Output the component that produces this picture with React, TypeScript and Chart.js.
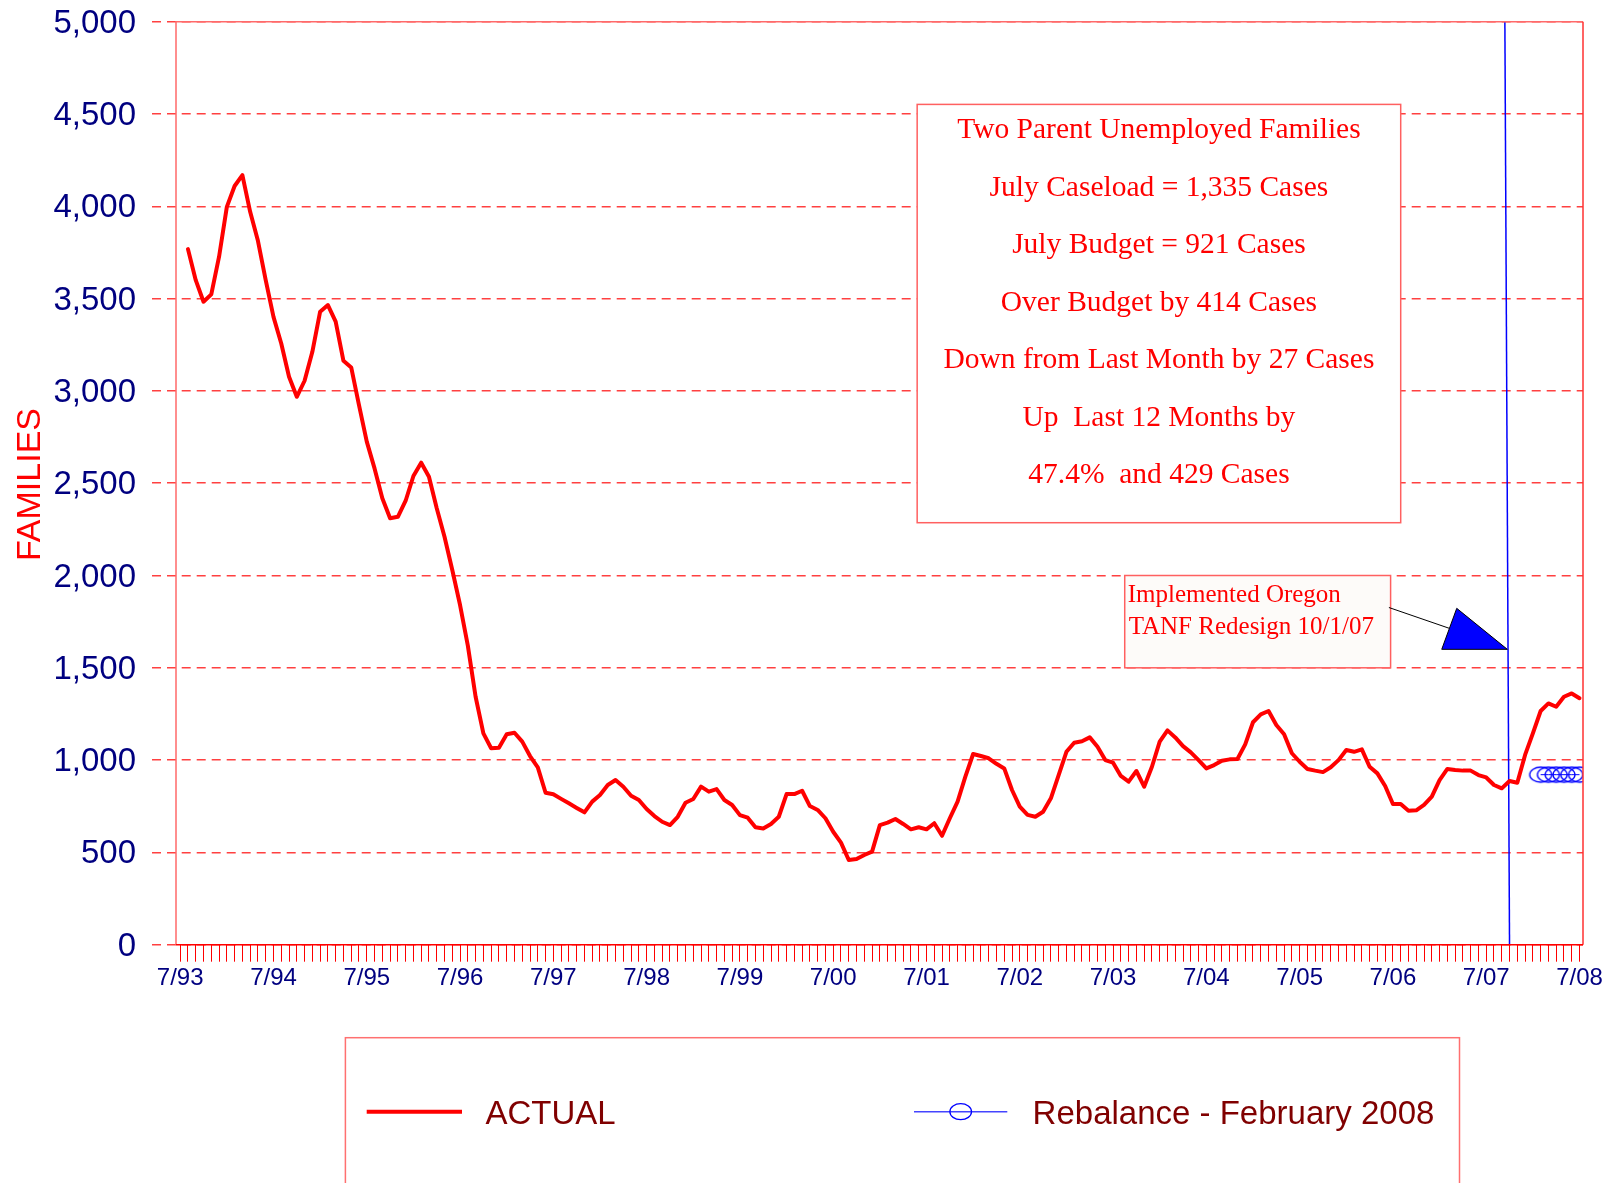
import { useEffect, useRef } from 'react';
import { Chart, registerables } from 'chart.js';

Chart.register(...registerables);

// ---- data ----
const yearLabels = ['7/93', '7/94', '7/95', '7/96', '7/97', '7/98', '7/99', '7/00', '7/01', '7/02', '7/03', '7/04', '7/05', '7/06', '7/07', '7/08'];

// monthly caseload, index 0 = 7/93 ... index 180 = 7/08
const actualValues: (number | null)[] = [
  null,
  3768, 3600, 3483, 3523, 3727, 3997, 4110, 4169, 3970, 3813, 3600, 3401,
  3257, 3077, 2968, 3055, 3212, 3429, 3465, 3375, 3163, 3127, 2923, 2725,
  2580, 2418, 2310, 2318, 2405, 2539, 2611, 2535, 2364, 2210, 2030, 1840,
  1620, 1343, 1145, 1064, 1067, 1140, 1148, 1100, 1022, 961, 823, 815,
  790, 766, 741, 717, 775, 811, 865, 892, 856, 807, 784, 735,
  697, 666, 648, 693, 769, 789, 856, 829, 843, 784, 757, 702,
  688, 636, 630, 654, 693, 816, 816, 834, 751, 730, 685, 612,
  553, 459, 464, 486, 504, 648, 661, 681, 654, 625, 636, 625,
  658, 590, 685, 775, 910, 1033, 1022, 1010, 980, 955, 838, 748,
  703, 693, 720, 793, 919, 1045, 1094, 1102, 1123, 1072, 1000, 986,
  914, 883, 941, 856, 964, 1100, 1161, 1123, 1076, 1042, 1000, 955,
  973, 997, 1004, 1006, 1085, 1205, 1248, 1266, 1190, 1140, 1037, 991,
  952, 943, 935, 961, 1000, 1055, 1045, 1058, 964, 928, 860, 762,
  762, 726, 728, 757, 802, 892, 952, 946, 943, 943, 919, 906,
  865, 847, 887, 877, 1028, 1145, 1266, 1307, 1289, 1343, 1361, 1335,
];

// Rebalance - February 2008 (Feb 08 .. Jul 08)
const rebalanceStartMonth = 175;
const rebalanceValues = [921, 921, 921, 921, 921, 921];

const yMin = 0;
const yMax = 5000;
const yStep = 500;

const summaryLines = [
  'Two Parent Unemployed Families',
  'July Caseload = 1,335 Cases',
  'July Budget = 921 Cases',
  'Over Budget by 414 Cases',
  'Down from Last Month by 27 Cases',
  'Up  Last 12 Months by',
  '47.4%  and 429 Cases',
];
const redesignLines = ['Implemented Oregon', 'TANF Redesign 10/1/07'];

const SANS = "'Liberation Sans', Arial, sans-serif";
const SERIF = "'Liberation Serif', 'Times New Roman', serif";

const TARGET = { left: 176, top: 21.7, right: 1583, bottom: 944.7 };

function makeEllipse(rx: number, ry: number) {
  const c = document.createElement('canvas');
  c.width = Math.ceil(rx * 2 + 4);
  c.height = Math.ceil(ry * 2 + 4);
  const g = c.getContext('2d')!;
  g.strokeStyle = '#0000ff';
  g.lineWidth = 1.3;
  g.beginPath();
  g.ellipse(c.width / 2, c.height / 2, rx, ry, 0, 0, Math.PI * 2);
  g.stroke();
  return c;
}

export default function App() {
  const ref = useRef<HTMLCanvasElement>(null);

  useEffect(() => {
    const canvas = ref.current!;
    const monthCount = (yearLabels.length - 1) * 12 + 1;
    const ellipse = makeEllipse(11, 7.5);
    const dims = { xHeight: 1183 - TARGET.bottom, yWidth: TARGET.left };

    const annotations = {
      id: 'annotations',
      beforeDatasetsDraw(chart: any) {
        const { ctx } = chart;
        const x = chart.scales.x;
        const y = chart.scales.y;
        ctx.save();

        // summary box
        const bL = x.getPixelForValue(94.8);
        const bR = x.getPixelForValue(157.0);
        const bT = y.getPixelForValue(4552);
        const bB = y.getPixelForValue(2286);
        ctx.fillStyle = '#ffffff';
        ctx.fillRect(bL, bT, bR - bL, bB - bT);
        ctx.strokeStyle = '#ff6060';
        ctx.lineWidth = 1.5;
        ctx.strokeRect(bL, bT, bR - bL, bB - bT);
        ctx.fillStyle = '#ff0000';
        ctx.font = `29.5px ${SERIF}`;
        ctx.textAlign = 'center';
        ctx.textBaseline = 'alphabetic';
        const cx = (bL + bR) / 2;
        summaryLines.forEach((t, i) => ctx.fillText(t, cx, bT + 34 + i * 57.5));

        // redesign box
        const rL = x.getPixelForValue(121.5);
        const rR = x.getPixelForValue(155.7);
        const rT = y.getPixelForValue(2000);
        const rB = y.getPixelForValue(1500);
        ctx.fillStyle = '#fdfbf9';
        ctx.fillRect(rL, rT, rR - rL, rB - rT);
        ctx.strokeStyle = '#ff6060';
        ctx.lineWidth = 1.5;
        ctx.strokeRect(rL, rT, rR - rL, rB - rT);
        ctx.fillStyle = '#ff0000';
        ctx.font = `25px ${SERIF}`;
        ctx.textAlign = 'left';
        ctx.fillText(redesignLines[0], rL + 3, rT + 26);
        ctx.fillText(redesignLines[1], rL + 4, rT + 58.3);

        // redesign vertical line
        const topX = x.getPixelForValue(170.4);
        const botX = x.getPixelForValue(171.0);
        const topY = y.getPixelForValue(yMax);
        const botY = y.getPixelForValue(yMin);
        ctx.strokeStyle = '#0000ff';
        ctx.lineWidth = 1.5;
        ctx.beginPath();
        ctx.moveTo(topX, topY);
        ctx.lineTo(botX, botY);
        ctx.stroke();

        // arrow
        const tipY = y.getPixelForValue(1600);
        const tipX = topX + (botX - topX) * (tipY - topY) / (botY - topY) - 0.7;
        ctx.strokeStyle = '#000000';
        ctx.lineWidth = 1;
        ctx.beginPath();
        ctx.moveTo(rR - 1.7, rT + 32);
        ctx.lineTo(tipX - 58, tipY - 21);
        ctx.stroke();
        ctx.fillStyle = '#0000ff';
        ctx.beginPath();
        ctx.moveTo(tipX - 50.6, tipY - 41);
        ctx.lineTo(tipX - 65.6, tipY);
        ctx.lineTo(tipX, tipY);
        ctx.closePath();
        ctx.fill();
        ctx.stroke();
        ctx.restore();
      },
      afterDraw(chart: any) {
        const { ctx, chartArea: a } = chart;
        ctx.save();
        // plot frame
        ctx.lineWidth = 1.5;
        ctx.strokeStyle = '#ff6a6a';
        ctx.beginPath();
        ctx.moveTo(a.left, a.bottom);
        ctx.lineTo(a.left, a.top);
        ctx.lineTo(a.right, a.top);
        ctx.stroke();
        ctx.strokeStyle = '#ff3030';
        ctx.beginPath();
        ctx.moveTo(a.right, a.top);
        ctx.lineTo(a.right, a.bottom);
        ctx.stroke();
        ctx.strokeStyle = '#ff0000';
        ctx.beginPath();
        ctx.moveTo(a.left, a.bottom);
        ctx.lineTo(a.right, a.bottom);
        ctx.stroke();

        // y title
        ctx.fillStyle = '#ff0000';
        ctx.font = `34px ${SANS}`;
        ctx.textAlign = 'center';
        ctx.textBaseline = 'alphabetic';
        ctx.translate(40, 484.5);
        ctx.rotate(-Math.PI / 2);
        ctx.fillText('FAMILIES', 0, 0);
        ctx.restore();

        // legend
        ctx.save();
        ctx.strokeStyle = '#ff7070';
        ctx.lineWidth = 1.5;
        ctx.strokeRect(345.4, 1037.7, 1459.5 - 345.4, 200);
        ctx.strokeStyle = '#ff0000';
        ctx.lineWidth = 4;
        ctx.beginPath();
        ctx.moveTo(366.7, 1111.7);
        ctx.lineTo(462, 1111.7);
        ctx.stroke();
        ctx.strokeStyle = '#4444ff';
        ctx.lineWidth = 1.5;
        ctx.beginPath();
        ctx.moveTo(914, 1111.7);
        ctx.lineTo(1007.3, 1111.7);
        ctx.stroke();
        ctx.strokeStyle = '#0000ff';
        ctx.lineWidth = 1.3;
        ctx.beginPath();
        ctx.ellipse(960.7, 1111.7, 10.8, 8, 0, 0, Math.PI * 2);
        ctx.stroke();
        ctx.fillStyle = '#800000';
        ctx.font = `33px ${SANS}`;
        ctx.textAlign = 'left';
        ctx.textBaseline = 'alphabetic';
        ctx.fillText('ACTUAL', 485.5, 1124);
        ctx.fillText('Rebalance - February 2008', 1032.6, 1124);
        ctx.restore();
      },
    };

    const chart = new Chart(canvas, {
      type: 'line',
      data: {
        datasets: [
          {
            label: 'ACTUAL',
            data: actualValues.map((v, i) => ({ x: i, y: v })) as any,
            borderColor: '#ff0000',
            borderWidth: 4,
            pointRadius: 0,
            tension: 0,
            spanGaps: false,
            borderJoinStyle: 'round',
            borderCapStyle: 'round',
          },
          {
            label: 'Rebalance - February 2008',
            data: rebalanceValues.map((v, i) => ({ x: rebalanceStartMonth + i, y: v })),
            borderColor: '#0000ff',
            borderWidth: 1,
            pointStyle: ellipse as any,
            pointRadius: 5,
            tension: 0,
            clip: 0 as any,
          },
        ],
      },
      options: {
        animation: false,
        responsive: false,
        devicePixelRatio: 1,
        layout: { padding: { left: 0, right: 1612 - TARGET.right, top: TARGET.top, bottom: 0 } },
        plugins: { legend: { display: false }, tooltip: { enabled: false } },
        events: [],
        scales: {
          x: {
            type: 'linear',
            min: -0.54,
            max: 180.45,
            afterFit: (s: any) => {
              s.height = dims.xHeight;
            },
            afterBuildTicks: (s: any) => {
              s.ticks = Array.from({ length: monthCount }, (_, i) => ({ value: i }));
            },
            border: { display: false },
            grid: {
              display: true,
              drawOnChartArea: false,
              drawTicks: true,
              tickLength: 17,
              tickColor: '#ff0000',
              tickWidth: 1,
              color: '#ff0000',
            },
            ticks: {
              autoSkip: false,
              maxRotation: 0,
              minRotation: 0,
              padding: 2,
              color: '#000080',
              font: { family: SANS, size: 24 },
              callback: (v: any) => (Number(v) % 12 === 0 ? yearLabels[Number(v) / 12] : ''),
            },
          },
          y: {
            type: 'linear',
            min: yMin,
            max: yMax,
            afterFit: (s: any) => {
              s.width = dims.yWidth;
            },
            border: { display: false, dash: [9, 6], dashOffset: 9.3 },
            grid: {
              color: 'rgba(255,0,0,0.75)',
              lineWidth: 1.5,
              tickLength: 24,
              tickBorderDash: [9, 6],
              tickBorderDashOffset: 0,
              tickColor: 'rgba(255,0,0,0.75)',
              tickWidth: 1.5,
            } as any,
            ticks: {
              stepSize: yStep,
              padding: 16,
              labelOffset: 2,
              color: '#000080',
              font: { family: SANS, size: 33, lineHeight: 0.2 },
              callback: (v: any) => Number(v).toLocaleString('en-US'),
            },
          },
        },
      },
      plugins: [annotations],
    });

    // pin the plot area to the reference's pixel box
    const a = chart.chartArea;
    const pad: any = (chart.options.layout as any).padding;
    const dTop = a.top - TARGET.top;
    const dBottom = a.bottom - TARGET.bottom;
    const dLeft = a.left - TARGET.left;
    const dRight = a.right - TARGET.right;
    if (Math.abs(dTop) > 0.05 || Math.abs(dBottom) > 0.05 || Math.abs(dLeft) > 0.05 || Math.abs(dRight) > 0.05) {
      pad.top = pad.top - dTop;
      pad.right = pad.right + dRight;
      dims.xHeight = dims.xHeight + dBottom;
      dims.yWidth = dims.yWidth - dLeft;
      chart.update();
    }

    return () => chart.destroy();
  }, []);

  return (
    <div style={{ position: 'fixed', left: 0, top: 0, width: 1612, height: 1183, background: '#fff' }}>
      <canvas ref={ref} width={1612} height={1183} style={{ display: 'block' }} />
    </div>
  );
}
